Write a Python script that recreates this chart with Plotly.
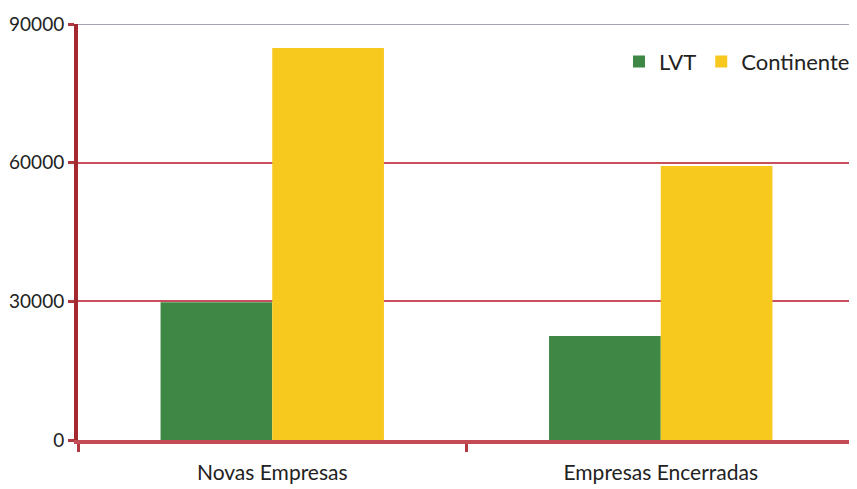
import plotly.graph_objects as go

categories = ["Novas Empresas", "Empresas Encerradas"]
lvt = [29800, 22500]
continente = [84800, 59300]
y_ticks = [0, 30000, 60000, 90000]

fig = go.Figure()
fig.add_trace(go.Bar(name="LVT", x=categories, y=lvt, marker=dict(color="#3f8744", line=dict(width=0))))
fig.add_trace(go.Bar(name="Continente", x=categories, y=continente, marker=dict(color="#f7c81e", line=dict(width=0))))

# page body has an 8px margin, so the figure is sized/offset to compensate
fig.update_layout(
    width=849, height=481,
    margin=dict(l=70, r=2, t=16, b=49),
    paper_bgcolor="white", plot_bgcolor="white",
    barmode="group", bargap=0.425, bargroupgap=0,
    font=dict(family="Lato, Open Sans, sans-serif", color="#222222"),
    legend=dict(orientation="h", x=1.0, xanchor="right", y=0.96, yanchor="top",
                font=dict(size=22), bgcolor="rgba(0,0,0,0)", itemwidth=30, traceorder="normal"),
    showlegend=True,
)
fig.update_yaxes(
    range=[0, 90000], tickvals=y_ticks, ticktext=[str(v) for v in y_ticks],
    showgrid=True, gridcolor="#c8505e", gridwidth=2,
    showline=True, linecolor="#a3282f", linewidth=4,
    ticks="outside", ticklen=6, tickwidth=3, tickcolor="#b03840",
    tickfont=dict(size=19), zeroline=False,
)
fig.update_xaxes(
    showline=True, linecolor="#c44a55", linewidth=4,
    ticks="outside", tickson="boundaries", ticklen=8, tickwidth=3, tickcolor="#b03840",
    tickfont=dict(size=21), ticklabelstandoff=11, mirror=False,
)
fig.add_shape(type="line", xref="paper", yref="paper", x0=1, x1=1, y0=0, y1=1,
              line=dict(color="#9a9aa8", width=1.5))
fig.add_shape(type="line", xref="paper", yref="y", x0=0, x1=1, y0=90000, y1=90000,
              line=dict(color="#a8a0b0", width=2), layer="above")

fig.write_html("out.html")
